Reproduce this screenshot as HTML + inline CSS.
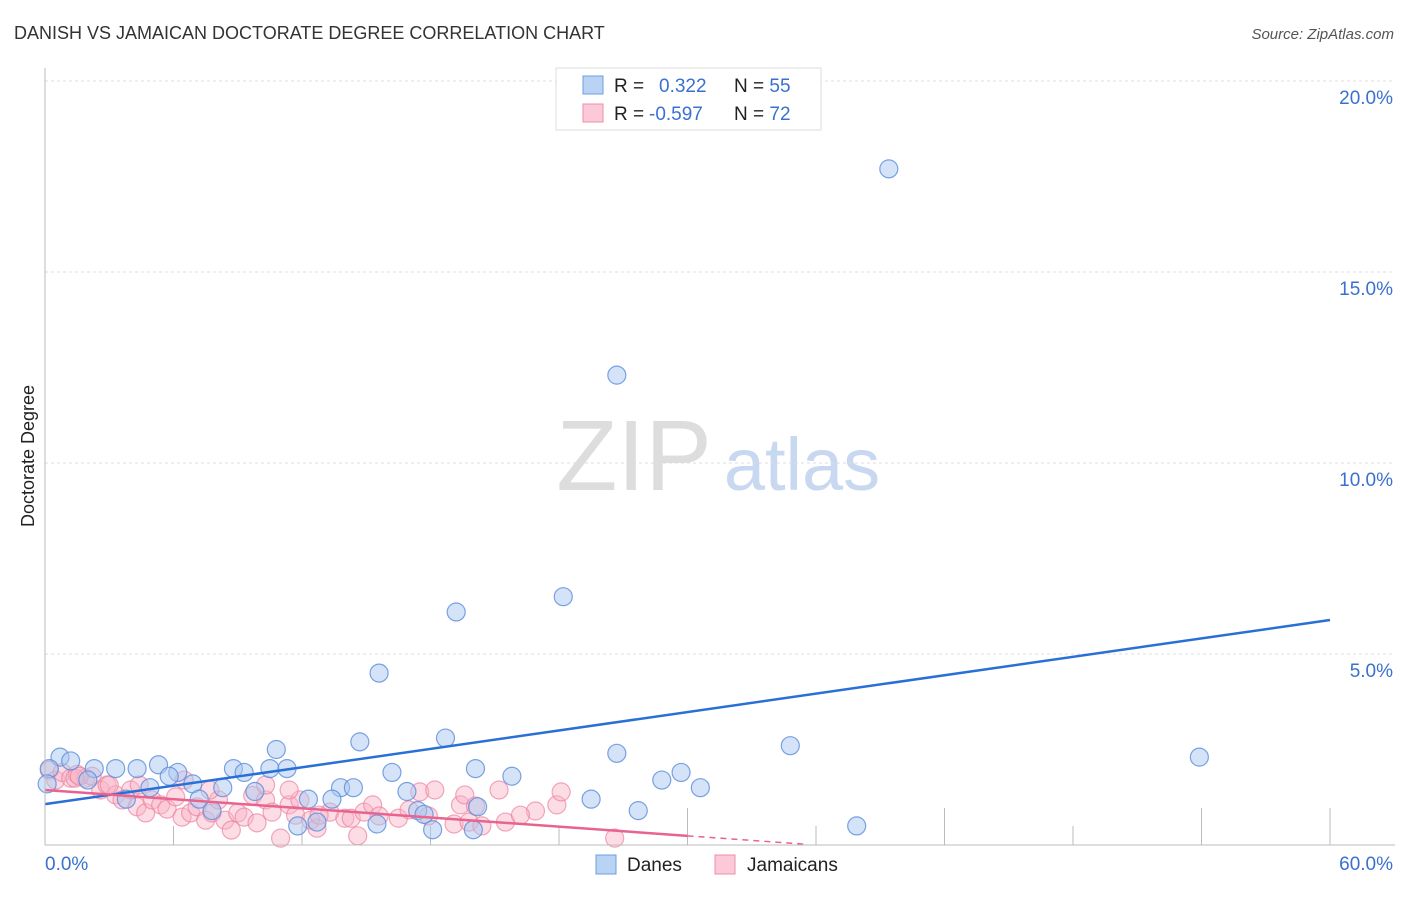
<!DOCTYPE html>
<html><head><meta charset="utf-8"><style>
body{margin:0;background:#fff;font-family:"Liberation Sans",sans-serif;}
svg text{font-family:"Liberation Sans",sans-serif;}
</style></head><body>
<svg width="1406" height="892" xmlns="http://www.w3.org/2000/svg">
<text x="14" y="39" font-size="18" fill="#333">DANISH VS JAMAICAN DOCTORATE DEGREE CORRELATION CHART</text>
<text x="1394" y="39" font-size="15" fill="#555" font-style="italic" text-anchor="end">Source: ZipAtlas.com</text>
<text x="634" y="490" font-size="100" fill="#ddd" font-family="Liberation Serif" text-anchor="middle">ZIP</text>
<text x="802" y="490" font-size="74" fill="#c8d8f0" text-anchor="middle">atlas</text>
<text transform="translate(34,456) rotate(-90)" font-size="18" fill="#222" text-anchor="middle">Doctorate Degree</text>
<g id="grid"></g>
<g id="pts"></g>
<g id="lines"></g>
<line x1="45" y1="845" x2="1395" y2="845" stroke="#bbb"/>
<line x1="45" y1="68" x2="45" y2="845" stroke="#bbb"/>
<text x="45" y="870" font-size="19" fill="#3a70d0">0.0%</text>
<text x="1393" y="870" font-size="19" fill="#3a70d0" text-anchor="end">60.0%</text>
<g>
<rect x="556" y="68" width="265" height="62" fill="#fff" stroke="#ddd"/>
<rect x="583" y="76" width="20" height="18" fill="#b9d3f5" stroke="#6f9de0"/>
<rect x="583" y="104" width="20" height="18" fill="#fbc9d7" stroke="#ee8eaa"/>
<text x="614" y="92" font-size="19" fill="#222">R = <tspan x="659" fill="#3a70d0">0.322</tspan></text>
<text x="734" y="92" font-size="19" fill="#222">N = <tspan fill="#3a70d0">55</tspan></text>
<text x="614" y="120" font-size="19" fill="#222">R = <tspan x="649" fill="#3a70d0">-0.597</tspan></text>
<text x="734" y="120" font-size="19" fill="#222">N = <tspan fill="#3a70d0">72</tspan></text>
</g>
<g>
<rect x="596" y="855" width="20" height="19" fill="#b9d3f5" stroke="#6f9de0"/>
<text x="627" y="871" font-size="19" fill="#222">Danes</text>
<rect x="715" y="855" width="20" height="19" fill="#fbc9d7" stroke="#ee8eaa"/>
<text x="747" y="871" font-size="19" fill="#222">Jamaicans</text>
</g>
</svg>
<script>
const yTicks=[5,10,15,20];
const xTicks=[6,12,18,24,30,36,42,48,54,60];
const danesX=[39.4,26.7,24.2,19.2,15.6,53.9,34.8,26.7,18.7,14.7,10.8,0.7,1.2,0.2,2.3,3.3,4.3,5.3,6.2,5.8,6.9,8.3,8.8,9.3,10.5,11.3,16.2,20.1,21.8,28.8,29.7,30.6,13.8,14.4,16.9,12.3,13.4,25.5,27.7,17.4,17.7,20.2,3.8,7.2,7.8,9.8,12.7,11.8,15.5,18.1,20.0,37.9,0.1,2.0,4.9];
const danesY=[17.7,12.3,6.5,6.1,4.5,2.3,2.6,2.4,2.8,2.7,2.5,2.3,2.2,2.0,2.0,2.0,2.0,2.1,1.9,1.8,1.6,1.5,2.0,1.9,2.0,2.0,1.9,2.0,1.8,1.7,1.9,1.5,1.5,1.5,1.4,1.2,1.2,1.2,0.9,0.9,0.8,1.0,1.2,1.2,0.9,1.4,0.6,0.5,0.55,0.4,0.4,0.5,1.6,1.7,1.5];
const jamX=[0.2,0.5,0.8,1.2,1.5,1.9,2.2,2.6,2.9,3.3,3.6,4.0,4.3,4.7,5.0,5.4,5.7,6.1,6.4,6.8,7.1,7.5,7.8,8.1,8.4,8.7,9.0,9.3,9.7,9.9,10.3,10.6,11.0,11.4,11.7,11.9,12.4,12.7,13.3,14.0,14.3,14.6,14.9,15.3,15.6,16.5,17.0,17.5,17.9,19.1,19.4,19.6,19.8,20.1,20.4,21.5,22.9,23.9,24.1,26.6,1.4,1.6,3.0,4.4,6.5,7.7,10.3,11.4,12.8,18.2,21.2,22.2];
const jamY=[1.96,1.7,1.9,1.75,1.85,1.75,1.8,1.44,1.57,1.31,1.18,1.44,1.0,0.84,1.18,1.05,0.94,1.26,0.73,0.84,1.0,0.65,0.84,1.18,0.65,0.39,0.84,0.73,1.3,0.58,1.18,0.86,0.18,1.05,0.78,1.18,0.65,0.44,0.86,0.7,0.7,0.24,0.86,1.05,0.76,0.7,0.92,1.39,0.76,0.55,1.05,1.31,0.6,1.02,0.5,0.6,0.89,1.05,1.39,0.18,1.75,1.8,1.57,1.57,1.7,1.44,1.57,1.44,0.78,1.44,1.44,0.78];
const danesFit=[1.07,5.89];
const jamFit=[1.44,0.24];
const NS='http://www.w3.org/2000/svg';
const X=v=>45+v*(1285/60);
const Y=v=>845-v*38.2;
function mk(t,a,p){const e=document.createElementNS(NS,t);for(const k in a)e.setAttribute(k,a[k]);p.appendChild(e);return e;}
const grid=document.getElementById('grid');
yTicks.forEach(t=>{
 const l=mk('line',{x1:45,x2:1395,y1:Y(t),y2:Y(t),stroke:'#ddd','stroke-dasharray':'3,3'},grid);
 
 
 const tx=mk('text',{x:1393,y:Y(t)+23,'font-size':19,fill:'#3a70d0','text-anchor':'end'},grid);
 tx.textContent=t.toFixed(1)+'%';
 
 
});
xTicks.forEach((t,i)=>{
 const tall=(t===30||t===42||t===54||t===60);
 const l=mk('line',{x1:X(t),x2:X(t),y1:tall?808:826,y2:845,stroke:'#bbb'},grid);
 
 
});
const pts=document.getElementById('pts');
jamX.forEach((v,i)=>{
 const c=mk('circle',{cx:X(v),cy:Y(jamY[i]),r:9,fill:'rgba(248,180,200,0.45)',stroke:'rgba(236,130,160,0.7)','stroke-width':1.2},pts);
 
 
});
danesX.forEach((v,i)=>{
 const c=mk('circle',{cx:X(v),cy:Y(danesY[i]),r:9,fill:'rgba(170,200,240,0.5)',stroke:'rgba(90,140,220,0.8)','stroke-width':1.2},pts);
 
 
});
const lines=document.getElementById('lines');
const bl=mk('line',{x1:X(0),y1:Y(danesFit[0]),x2:X(60),y2:Y(danesFit[1]),stroke:'#2a6fd6','stroke-width':2.5},lines);


const jy=x=>jamFit[0]+(jamFit[1]-jamFit[0])*x/30;
const pl=mk('line',{x1:X(0),y1:Y(jy(0)),x2:X(30),y2:Y(jy(30)),stroke:'#e8638e','stroke-width':2.5},lines);


const pd=mk('line',{x1:X(30),y1:Y(jy(30)),x2:X(35.5),y2:Y(Math.max(0,jy(35.5))),stroke:'#e8638e','stroke-width':1.5,'stroke-dasharray':'6,5'},lines);


</script>
</body></html>
